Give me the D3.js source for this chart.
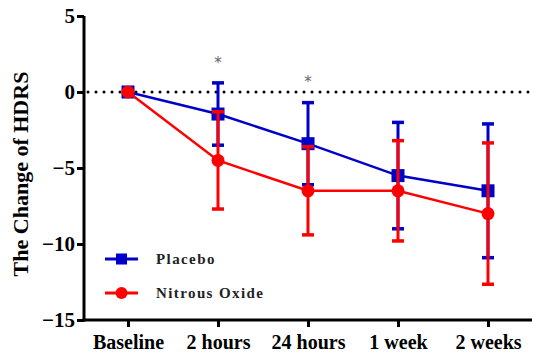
<!DOCTYPE html>
<html><head><meta charset="utf-8">
<script src="https://cdn.jsdelivr.net/npm/d3@7"></script>
<style>body{margin:0;background:#fff}svg{display:block}</style>
</head><body>
<svg id="c" width="534" height="354"></svg>
<script>
const categories = ["Baseline","2 hours","24 hours","1 week","2 weeks"];
const placeboMean = [0,-1.45,-3.4,-5.5,-6.5];
const placeboSD   = [0,2.05,2.7,3.5,4.4];
const nitrousMean = [0,-4.5,-6.5,-6.5,-8.0];
const nitrousSD   = [0,3.2,2.9,3.3,4.65];
const yTicks = [5,0,-5,-10,-15];
const sigLabels = [{cat:"2 hours", y:1.6},{cat:"24 hours", y:0.3}];

const svg = d3.select("#c");
const serif = "'Liberation Serif','Times New Roman',serif";
const x = d3.scalePoint().domain(categories).range([128,488]);
const y = d3.scaleLinear().domain([-15,5]).range([320,16]);

// zero dotted line
svg.append("line").attr("x1",88).attr("x2",534).attr("y1",y(0)).attr("y2",y(0))
  .attr("stroke","#000").attr("stroke-width",3).attr("stroke-linecap","round")
  .attr("stroke-dasharray","0,8");

// axes
const ya = svg.append("g").attr("transform","translate(84,0)")
  .call(d3.axisLeft(y).tickValues(yTicks).tickSize(7).tickFormat(d3.format("d")));
ya.select(".domain").attr("stroke-width",3).attr("d","M0,16V321.5");
ya.selectAll(".tick line").attr("stroke-width",3);
ya.selectAll("text").attr("font-family",serif).attr("font-weight","bold").attr("font-size",21).attr("fill","#000").attr("dx",1).attr("dy","0.33em");

const xa = svg.append("g").attr("transform","translate(0,320)")
  .call(d3.axisBottom(x).tickSize(7));
xa.select(".domain").attr("stroke-width",3).attr("d","M82.5,0H532");
xa.selectAll(".tick line").attr("stroke-width",3);
xa.selectAll("text").attr("font-family",serif).attr("font-weight","bold").attr("font-size",20).attr("fill","#000").attr("y",13).attr("dy","0.8em");

// y label
svg.append("text").attr("transform","translate(28,174) rotate(-90)").attr("text-anchor","middle")
  .attr("font-family",serif).attr("font-weight","bold").attr("font-size",22).text("The Change of HDRS");

const blue = "#0000c8", red = "#ff0000";
function series(mean, sd, color, marker){
  const g = svg.append("g");
  const pts = categories.map((c,i)=>({c, m:mean[i], s:sd[i]}));
  g.append("path").datum(pts).attr("fill","none").attr("stroke",color).attr("stroke-width",2.5)
    .attr("d", d3.line().x(d=>x(d.c)).y(d=>y(d.m)));
  pts.filter(d=>d.s>0).forEach(d=>{
    const cx = x(d.c);
    g.append("line").attr("x1",cx).attr("x2",cx).attr("y1",y(d.m+d.s)).attr("y2",y(d.m-d.s)).attr("stroke",color).attr("stroke-width",3);
    [d.m+d.s, d.m-d.s].forEach(v=>{
      g.append("line").attr("x1",cx-6).attr("x2",cx+6).attr("y1",y(v)).attr("y2",y(v)).attr("stroke",color).attr("stroke-width",3.5);
    });
  });
  pts.forEach(d=>{
    if(marker==="square") g.append("rect").attr("x",x(d.c)-6.5).attr("y",y(d.m)-6.5).attr("width",13).attr("height",13).attr("fill",color);
    else g.append("circle").attr("cx",x(d.c)).attr("cy",y(d.m)).attr("r",6.5).attr("fill",color);
  });
}
series(placeboMean, placeboSD, blue, "square");
series(nitrousMean, nitrousSD, red, "circle");

// significance
sigLabels.forEach(s=>{
  svg.append("text").attr("x",x(s.cat)).attr("y",y(s.y)).attr("text-anchor","middle")
    .attr("font-family","'DejaVu Sans',sans-serif").attr("font-size",15).attr("fill","#666").text("*");
});

// legend
const legend = [{name:"Placebo",color:blue,marker:"square",y:259},{name:"Nitrous Oxide",color:red,marker:"circle",y:293}];
legend.forEach(l=>{
  svg.append("line").attr("x1",105).attr("x2",138).attr("y1",l.y).attr("y2",l.y).attr("stroke",l.color).attr("stroke-width",3);
  if(l.marker==="square") svg.append("rect").attr("x",116).attr("y",l.y-5.5).attr("width",11).attr("height",11).attr("fill",l.color);
  else svg.append("circle").attr("cx",121.5).attr("cy",l.y).attr("r",6).attr("fill",l.color);
  svg.append("text").attr("x",156).attr("y",l.y+5).attr("font-family",serif).attr("font-weight","bold")
    .attr("font-size",15).attr("letter-spacing",1.4).attr("fill","#222").text(l.name);
});
</script>
</body></html>
